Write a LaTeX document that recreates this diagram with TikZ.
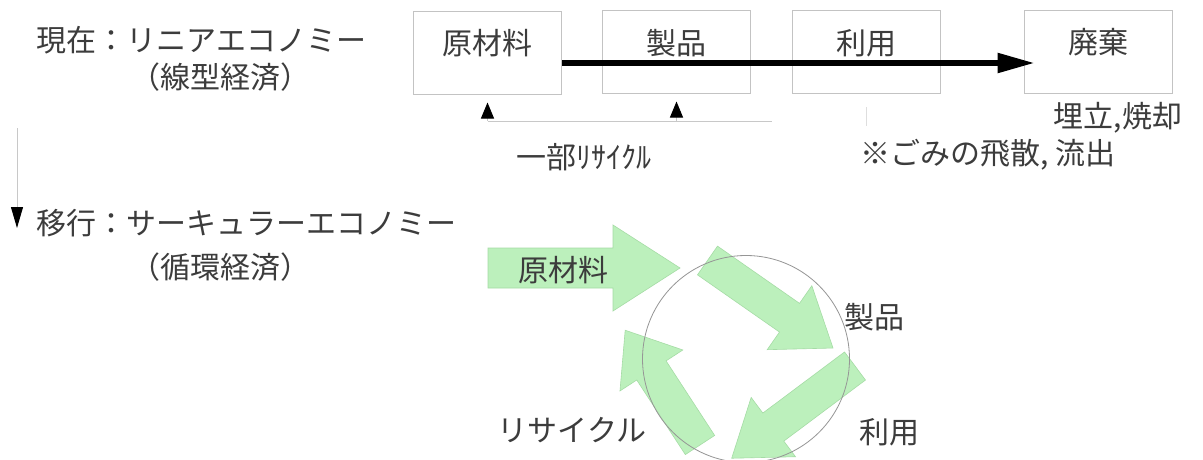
\documentclass[tikz,border=0pt]{standalone}
\usepackage{fontspec}
\setmainfont{Noto Sans CJK JP}
\usetikzlibrary{arrows.meta}
\definecolor{txt}{RGB}{60,60,60}
\definecolor{boxline}{RGB}{195,195,195}
\definecolor{gfill}{RGB}{188,240,188}
\definecolor{gline}{RGB}{165,220,165}
\definecolor{circline}{RGB}{150,150,150}
\definecolor{faint}{RGB}{200,200,200}
\newcommand\blockarr[7]{%
  \begin{scope}[shift={(#1,#2)},rotate=#3]
    \filldraw[garrow] (0,-#5/2) -- (#4-#7,-#5/2) -- (#4-#7,-#6/2) -- (#4,0)
      -- (#4-#7,#6/2) -- (#4-#7,#5/2) -- (0,#5/2) -- cycle;
  \end{scope}}
\begin{document}
\begin{tikzpicture}[x=1pt,y=-1pt,
  lbl/.style={inner sep=0pt, text=txt, font=\fontsize{30}{34}\selectfont},
  boxnode/.style={draw=boxline, line width=1pt, minimum width=148pt, minimum height=83pt, inner sep=0pt},
  garrow/.style={fill=gfill, draw=gline, line width=0.6pt},
  thinline/.style={draw=faint, line width=1pt},
  smalltip/.style={-{Triangle[black,width=13pt,length=16pt]}}
]
\useasboundingbox[fill=white] (0,0) rectangle (1203,460);

% ---------- top: linear economy ----------
\node[lbl,anchor=west] (cur) at (36,40) {現在：リニアエコノミー};
\node[lbl] (curp) at (220,77) {（線型経済）};

\node[boxnode] (b1) at (487.5,53.5) {};
\node[boxnode] (b2) at (676.5,52.5) {};
\node[boxnode] (b3) at (866.5,52.5) {};
\node[boxnode] (b4) at (1098,52) {};
\node[lbl] (t1) at (487.5,43) {原材料};
\node[lbl] (t2) at (676.5,43) {製品};
\node[lbl] (t3) at (866.5,43) {利用};
\node[lbl] (t4) at (1098,42) {廃棄};

\draw[line width=5.5pt, shorten >=-11pt, -{Triangle[width=19pt,length=37pt]}]
  ([yshift=-9.5pt]b1.east) -- ([yshift=-11pt]b4.west);

% partial recycling
\coordinate (rl) at (488,121);
\coordinate (rr) at (772,121);
\draw[thinline] (rl) -- (rr);
\draw[thinline, smalltip, shorten >=7pt] (b1.south |- rl) -- (b1.south);
\draw[thinline, smalltip, shorten >=7pt] (b2.south |- rl) -- (b2.south);
\draw[draw=faint!60, line width=1pt] ([yshift=-13pt]b3.south) -- ([yshift=-31pt]b3.south);

\node[lbl] (rc) at (584,157) {一部ﾘｻｲｸﾙ};
\node[lbl] (bury) at (1118,118) {埋立,焼却};
\node[lbl] (dust) at (988,155) {※ごみの飛散, 流出};

% transition arrow
\coordinate (va) at (17,128);
\coordinate (vb) at (17,228);
\draw[thinline, -{Triangle[black,width=12pt,length=21pt]}] (va) -- (vb);

% ---------- bottom: circular economy ----------
\node[lbl,anchor=west] (mig) at (36,223) {移行：サーキュラーエコノミー};
\node[lbl] (migp) at (220,267) {（循環経済）};

\blockarr{488}{268}{0}{192}{40}{86}{67}
\blockarr{707.5}{260.5}{-34.9}{153}{35}{78}{53}
\blockarr{855}{366}{-143.2}{154}{35}{74}{52}
\blockarr{700}{445}{123.1}{137}{35}{75}{48}

\node[circle, draw=circline, line width=0.8pt, minimum size=207pt, inner sep=0pt] (cyc) at (746,359) {};

\node[lbl] (raw2) at (563,270) {原材料};
\node[lbl] (prod2) at (874,317) {製品};
\node[lbl] (use2) at (889,432) {利用};
\node[lbl] (rec2) at (572,430) {リサイクル};
\end{tikzpicture}
\end{document}
